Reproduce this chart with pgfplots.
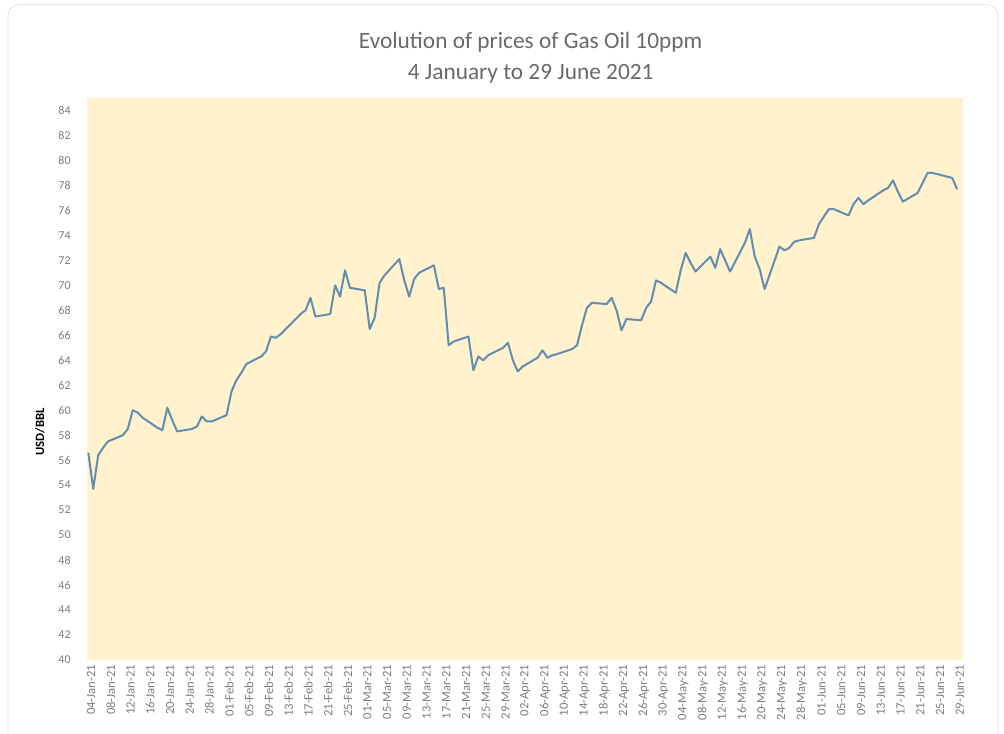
\documentclass[border=0pt]{standalone}
\usepackage{pgfplots}
\pgfplotsset{compat=1.18}
\usepackage{pgfplotstable}
\usepackage{fontspec}
\setmainfont{Carlito}
\definecolor{bgyellow}{RGB}{255,242,204}
\definecolor{linecol}{RGB}{98,140,176}
\definecolor{tickgray}{RGB}{125,125,125}
\definecolor{titlegray}{RGB}{105,105,105}
\definecolor{bordergray}{RGB}{220,220,220}
\pgfplotstableread{
d v
0 56.6
1 53.7
2 56.4
3 57.0
4 57.5
7 58.0
8 58.5
9 60.0
10 59.8
11 59.4
14 58.6
15 58.4
16 60.2
17 59.2
18 58.3
21 58.5
22 58.7
23 59.5
24 59.1
25 59.1
28 59.6
29 61.5
30 62.4
31 63.0
32 63.7
35 64.3
36 64.7
37 65.9
38 65.8
39 66.1
42 67.3
43 67.7
44 68.0
45 69.0
46 67.5
49 67.7
50 70.0
51 69.1
52 71.2
53 69.8
56 69.6
57 66.5
58 67.4
59 70.2
60 70.8
63 72.1
64 70.4
65 69.1
66 70.5
67 71.0
70 71.6
71 69.7
72 69.8
73 65.2
74 65.5
77 65.9
78 63.2
79 64.3
80 64.0
81 64.4
84 65.0
85 65.4
86 64.0
87 63.1
88 63.5
91 64.2
92 64.8
93 64.2
94 64.4
95 64.5
98 64.9
99 65.2
100 66.8
101 68.2
102 68.6
105 68.5
106 69.0
107 68.0
108 66.4
109 67.3
112 67.2
113 68.2
114 68.7
115 70.4
116 70.2
119 69.4
120 71.2
121 72.6
122 71.8
123 71.1
126 72.3
127 71.4
128 72.9
129 72.0
130 71.1
133 73.4
134 74.5
135 72.3
136 71.3
137 69.7
140 73.1
141 72.8
142 73.0
143 73.5
144 73.6
147 73.8
148 74.9
149 75.5
150 76.1
151 76.1
154 75.6
155 76.5
156 77.0
157 76.5
158 76.8
161 77.6
162 77.8
163 78.4
164 77.5
165 76.7
168 77.4
169 78.2
170 79.0
171 79.0
172 78.9
175 78.6
176 77.7
}\gasoil
\begin{document}
\begin{tikzpicture}
\useasboundingbox (0,0) rectangle (753pt,550.5pt);
\fill[white] (0,0) rectangle (753pt,550.5pt);
\draw[bordergray, rounded corners=8pt] (6pt,-12pt) rectangle (748.5pt,547pt);
\begin{axis}[
  at={(65.5pt,55.5pt)}, anchor=south west,
  scale only axis, width=656.8pt, height=421.5pt,
  xmin=-0.2, xmax=177.2, ymin=40, ymax=85,
  axis background/.style={fill=bgyellow},
  axis line style={draw=none},
  major tick length=0pt,
  ytick={40,42,...,84},
  xtick={0,4,...,176},
  xticklabels={04-Jan-21,08-Jan-21,12-Jan-21,16-Jan-21,20-Jan-21,24-Jan-21,28-Jan-21,01-Feb-21,05-Feb-21,09-Feb-21,13-Feb-21,17-Feb-21,21-Feb-21,25-Feb-21,01-Mar-21,05-Mar-21,09-Mar-21,13-Mar-21,17-Mar-21,21-Mar-21,25-Mar-21,29-Mar-21,02-Apr-21,06-Apr-21,10-Apr-21,14-Apr-21,18-Apr-21,22-Apr-21,26-Apr-21,30-Apr-21,04-May-21,08-May-21,12-May-21,16-May-21,20-May-21,24-May-21,28-May-21,01-Jun-21,05-Jun-21,09-Jun-21,13-Jun-21,17-Jun-21,21-Jun-21,25-Jun-21,29-Jun-21},
  /pgf/number format/assume math mode=true,
  yticklabel style={font=\fontsize{9}{10}\selectfont, text=tickgray, anchor=east, xshift=-9pt},
  xticklabel style={font=\fontsize{9.5}{10}\selectfont, text=tickgray, rotate=90, anchor=east, yshift=-2pt},
  clip=false,
]
\addplot[linecol, line width=1.5pt, line join=round] table[x=d, y=v] {\gasoil};
\end{axis}
\node[rotate=90, font=\bfseries\fontsize{9.5}{10}\selectfont] at (30pt,226.5pt) {USD/BBL};
\node[text=titlegray, align=center, font=\fontsize{17.5}{23}\selectfont] at (398pt,507pt) {Evolution of prices of Gas Oil 10ppm\\4 January to 29 June 2021};
\end{tikzpicture}
\end{document}
